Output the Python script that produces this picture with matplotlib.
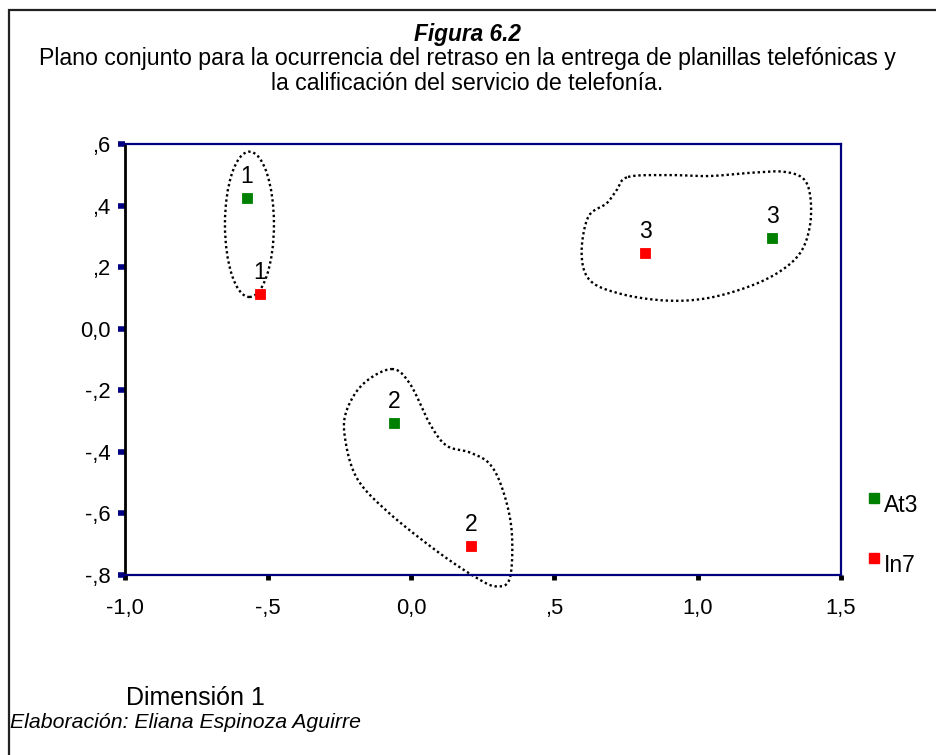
import numpy as np
import matplotlib
matplotlib.use("Agg")
import matplotlib.pyplot as plt
from matplotlib.patches import Ellipse, Rectangle
from matplotlib.lines import Line2D

plt.rcParams['font.family'] = ['Liberation Sans', 'DejaVu Sans']

# ---- data ----
series_names = ["At3", "In7"]
series_colors = ["#008000", "#ff0000"]
category_labels = ["1", "2", "3"]
at3_x = [-0.574, -0.060, 1.260]
at3_y = [0.426, -0.305, 0.294]
in7_x = [-0.527, 0.208, 0.817]
in7_y = [0.114, -0.706, 0.246]

xticks = [-1.0, -0.5, 0.0, 0.5, 1.0, 1.5]
xtick_labels = ["-1,0", "-,5", "0,0", ",5", "1,0", "1,5"]
yticks = [0.6, 0.4, 0.2, 0.0, -0.2, -0.4, -0.6, -0.8]
ytick_labels = [",6", ",4", ",2", "0,0", "-,2", "-,4", "-,6", "-,8"]

# hand-drawn grouping outlines (annotation shapes, data units)
group1_ellipse = dict(center=(-0.564, 0.339), width=0.171, height=0.472)
group2_x = [-0.068, -0.004, 0.066, 0.124, 0.205, 0.275, 0.321, 0.351, 0.345, 0.298,
            0.228, 0.089, -0.085, -0.190, -0.231, -0.225, -0.167]
group2_y = [-0.131, -0.179, -0.310, -0.380, -0.402, -0.440, -0.527, -0.657, -0.809, -0.837,
            -0.809, -0.722, -0.592, -0.484, -0.353, -0.266, -0.179]
group3_x = [0.757, 0.903, 1.042, 1.193, 1.298, 1.368, 1.393, 1.391, 1.356, 1.275,
            1.158, 1.019, 0.879, 0.728, 0.624, 0.595, 0.618, 0.682, 0.717]
group3_y = [0.493, 0.499, 0.496, 0.507, 0.510, 0.488, 0.428, 0.331, 0.244, 0.179,
            0.130, 0.097, 0.092, 0.114, 0.157, 0.244, 0.363, 0.407, 0.450]


def closed_spline(xs, ys, n=24):
    P = np.column_stack([xs, ys])
    N = len(P)
    t = np.linspace(0, 1, n, endpoint=False)[:, None]
    out = []
    for i in range(N):
        p0, p1, p2, p3 = P[i - 1], P[i], P[(i + 1) % N], P[(i + 2) % N]
        pts = 0.5 * ((2 * p1) + (-p0 + p2) * t + (2 * p0 - 5 * p1 + 4 * p2 - p3) * t ** 2
                     + (-p0 + 3 * p1 - 3 * p2 + p3) * t ** 3)
        out.append(pts)
    out.append(P[:1])
    pts = np.vstack(out)
    return pts[:, 0], pts[:, 1]


W, H = 937, 755
fig = plt.figure(figsize=(W / 100, H / 100), dpi=100)
fig.patch.set_facecolor("white")

# outer frame
fig.add_artist(Rectangle((9 / W, -0.01), 1.1, 1 - 10 / H + 0.01, transform=fig.transFigure,
                         fill=False, edgecolor="#222222", linewidth=1.6))

ax = fig.add_axes([124.5 / W, 1 - 575 / H, (841 - 124.5) / W, (575 - 144) / H])
ax.set_xlim(-1.0, 1.5)
ax.set_ylim(-0.8, 0.6)

navy = "#000080"
for s in ["top", "right", "bottom"]:
    ax.spines[s].set_color(navy)
    ax.spines[s].set_linewidth(1.6)
ax.spines["left"].set_color("black")
ax.spines["left"].set_linewidth(2.0)

ax.set_xticks(xticks)
ax.set_xticklabels(xtick_labels)
ax.set_yticks(yticks)
ax.set_yticklabels(ytick_labels)
ax.tick_params(axis="y", direction="out", length=5, width=4, color=navy, pad=5,
               labelsize=15.8)
ax.tick_params(axis="x", direction="out", length=3.5, width=3.5, color="black", pad=13,
               labelsize=15.8)

# grouping outlines
dot_style = dict(color="black", linewidth=1.7, linestyle=(0, (1, 1.2)), clip_on=False, zorder=2)
e = Ellipse(group1_ellipse["center"], group1_ellipse["width"], group1_ellipse["height"],
            fill=False, edgecolor="black", linewidth=1.7, linestyle=(0, (1, 1.2)), clip_on=False,
            zorder=2)
ax.add_patch(e)
gx, gy = closed_spline(group2_x, group2_y)
ax.plot(gx, gy, **dot_style)
gx, gy = closed_spline(group3_x, group3_y)
ax.plot(gx, gy, **dot_style)

# points
for xs, ys, col in [(at3_x, at3_y, series_colors[0]), (in7_x, in7_y, series_colors[1])]:
    ax.plot(xs, ys, linestyle="none", marker="s", markersize=7.5, color=col,
            markeredgecolor=col, markeredgewidth=0.6, zorder=3, clip_on=False)
    for x, y, lab in zip(xs, ys, category_labels):
        ax.annotate(lab, (x, y), xytext=(0, 7), textcoords="offset points",
                    ha="center", va="bottom", fontsize=16.5, zorder=4)

# legend (manual)
leg_y = [498, 558]
for name, col, yy in zip(series_names, series_colors, leg_y):
    fig.add_artist(Line2D([874 / W], [1 - yy / H], transform=fig.transFigure, marker="s",
                          markersize=7, color=col, linestyle="none"))
    fig.text(884 / W, 1 - (yy + 8) / H, name, fontsize=16.5, ha="left", va="center")

# titles
fig.text(468 / W, 1 - 34 / H, "Figura 6.2", fontsize=16.3, fontweight="bold", style="italic",
         ha="center", va="center")
fig.text(467 / W, 1 - 59 / H,
         "Plano conjunto para la ocurrencia del retraso en la entrega de planillas telefónicas y",
         fontsize=16.7, ha="center", va="center")
fig.text(467 / W, 1 - 83 / H, "la calificación del servicio de telefonía.",
         fontsize=16.7, ha="center", va="center")

fig.text(126 / W, 1 - 698 / H, "Dimensión 1", fontsize=18, ha="left", va="center")
fig.text(10 / W, 1 - 723 / H, "Elaboración: Eliana Espinoza Aguirre", fontsize=15.3,
         style="italic", ha="left", va="center")

fig.savefig("out.png", dpi=100)
